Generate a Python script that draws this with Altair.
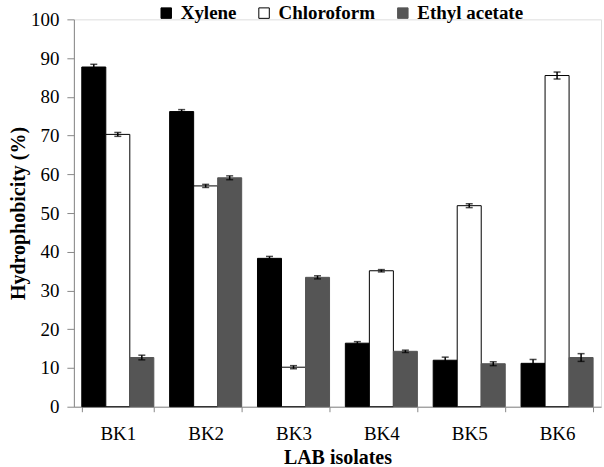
import altair as alt
import pandas as pd

isolates = ["BK1", "BK2", "BK3", "BK4", "BK5", "BK6"]
solvents = ["Xylene", "Chloroform", "Ethyl acetate"]
xylene = [87.7, 76.2, 38.3, 16.4, 12.0, 11.2]
chloroform = [70.3, 57.0, 10.2, 35.1, 51.9, 85.5]
ethyl_acetate = [12.7, 59.1, 33.4, 14.3, 11.1, 12.7]
xylene_err = [0.7, 0.5, 0.5, 0.4, 0.8, 1.0]
chloroform_err = [0.5, 0.4, 0.4, 0.3, 0.5, 0.9]
ethyl_acetate_err = [0.6, 0.5, 0.4, 0.3, 0.5, 1.0]
y_ticks = [0, 10, 20, 30, 40, 50, 60, 70, 80, 90, 100]
fills = ["#000000", "#ffffff", "#555555"]
strokes = ["#000000", "#000000", "#555555"]

rows = []
for s, vals, errs in zip(solvents, [xylene, chloroform, ethyl_acetate],
                         [xylene_err, chloroform_err, ethyl_acetate_err]):
    for iso, v, e in zip(isolates, vals, errs):
        rows.append({"isolate": iso, "solvent": s, "value": v,
                     "lo": v - e, "hi": v + e})
df = pd.DataFrame(rows)

FONT = "Liberation Serif"

xscale = alt.Scale(paddingInner=0.18, paddingOuter=0.09)
yscale = alt.Scale(domain=[0, 100], nice=False)
xaxis = alt.Axis(title="LAB isolates", labelAngle=0, tickBand="extent",
                 labelFont=FONT, titleFont=FONT,
                 labelFontSize=19, titleFontSize=20, titleFontWeight="bold",
                 labelPadding=13, titlePadding=4, tickSize=5)
yaxis = alt.Axis(title="Hydrophobicity (%)", values=y_ticks,
                 labelFont=FONT, titleFont=FONT,
                 grid=False, tickSize=7, labelFontSize=19, titleFontSize=20,
                 titleFontWeight="bold", labelPadding=8, titlePadding=2,
                 labelOverlap=False)

x = alt.X("isolate:N", sort=isolates, scale=xscale, axis=xaxis)
xo = alt.XOffset("solvent:N", sort=solvents,
                 scale=alt.Scale(paddingInner=0, paddingOuter=0))

base = alt.Chart(df)

bars = base.mark_bar(strokeWidth=1).encode(
    x=x, xOffset=xo,
    y=alt.Y("value:Q", scale=yscale, axis=yaxis),
    fill=alt.Fill("solvent:N", sort=solvents,
                  scale=alt.Scale(domain=solvents, range=fills),
                  legend=alt.Legend(title=None, orient="none", legendX=83, legendY=-16,
                                    direction="horizontal", symbolType="square",
                                    symbolSize=110, symbolStrokeColor="black",
                                    symbolStrokeWidth=1, labelFontSize=19,
                                    labelFontWeight="bold", labelFont=FONT,
                                    columnPadding=18, labelOffset=5)),
    stroke=alt.Stroke("solvent:N", scale=alt.Scale(domain=solvents, range=strokes),
                      legend=None),
)

rules = base.mark_rule(color="black", strokeWidth=1.5).encode(
    x=x, xOffset=xo, y=alt.Y("lo:Q", scale=yscale, axis=yaxis), y2="hi:Q")
caps_hi = base.mark_tick(color="black", size=7, thickness=1.5).encode(
    x=x, xOffset=xo, y=alt.Y("hi:Q", scale=yscale, axis=yaxis))
caps_lo = base.mark_tick(color="black", size=7, thickness=1.5).encode(
    x=x, xOffset=xo, y=alt.Y("lo:Q", scale=yscale, axis=yaxis))

chart = alt.layer(bars, rules, caps_hi, caps_lo).properties(
    width=528, height=388,
    padding={"left": 8, "right": 3, "top": 3, "bottom": 2},
).configure_axis(
    labelColor="black", titleColor="black",
    domainColor="black", tickColor="black", domainWidth=1.5, tickWidth=1.5,
).configure_view(stroke=None).configure(background="white")

chart.save("out.html", embed_options={"renderer": "svg", "actions": False})
